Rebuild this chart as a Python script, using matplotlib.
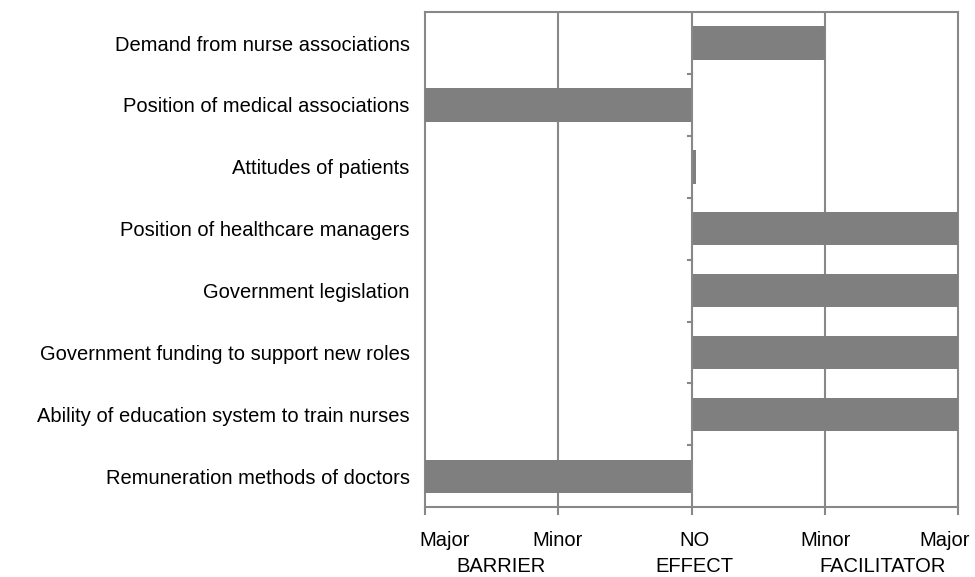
import matplotlib

matplotlib.use("Agg")

import matplotlib.pyplot as plt
import numpy as np

plt.rcParams["font.family"] = ["Liberation Sans", "DejaVu Sans"]

# Factors, top to bottom; score -2 major barrier ... +2 major facilitator.
FACTORS = [
    "Demand from nurse associations",
    "Position of medical associations",
    "Attitudes of patients",
    "Position of healthcare managers",
    "Government legislation",
    "Government funding to support new roles",
    "Ability of education system to train nurses",
    "Remuneration methods of doctors",
]
SCORES = [1.0, -2.0, 0.03, 2.0, 2.0, 2.0, 2.0, -2.0]

TICKS = [-2, -1, 0, 1, 2]
TICK_LABELS = ["Major", "Minor", "NO", "Minor", "Major"]
GROUP_LABELS = ["BARRIER", "EFFECT", "FACILITATOR"]

# label placement along x (data units), as the source chart draws them
TICK_LABEL_X = [-1.85, -1.01, 0.02, 1.0, 1.9]
GROUP_LABEL_X = [-1.43, 0.02, 1.43]

GRAY = "#888888"
BAR = "#7f7f7f"
FS = 14.5

fig = plt.figure(figsize=(9.75, 5.77), dpi=100)
ax = fig.add_axes([0.436, 0.121, 0.547, 0.858])

y = np.arange(len(FACTORS))
ax.barh(y, SCORES, height=0.54, color=BAR, zorder=3)
ax.set_ylim(len(FACTORS) - 0.5, -0.5)
ax.set_xlim(-2, 2)

for v in (-1, 1):
    ax.axvline(v, color=GRAY, linewidth=1.5, zorder=1)
ax.axvline(0, color=GRAY, linewidth=1.5, zorder=4)
for s in ax.spines.values():
    s.set_color(GRAY)
    s.set_linewidth(1.5)

# Category boundary ticks sit on the zero line
for b in np.arange(0.5, len(FACTORS) - 0.5, 1.0):
    ax.plot([-0.03, 0], [b, b], color=GRAY, linewidth=1.5, zorder=4,
            clip_on=False)

ax.set_yticks(y)
ax.set_yticklabels(FACTORS, fontsize=FS)
ax.tick_params(axis="y", length=0, pad=11)

ax.set_xticks(TICKS)
ax.set_xticklabels([])
ax.tick_params(axis="x", length=6, width=1.5, color=GRAY)
tr = ax.get_xaxis_transform()
for x, lab in zip(TICK_LABEL_X, TICK_LABELS):
    ax.text(x, -0.067, lab, transform=tr, ha="center", va="center",
            fontsize=FS)
for x, lab in zip(GROUP_LABEL_X, GROUP_LABELS):
    ax.text(x, -0.119, lab, transform=tr, ha="center", va="center",
            fontsize=FS)

fig.savefig("out.png", dpi=100)
